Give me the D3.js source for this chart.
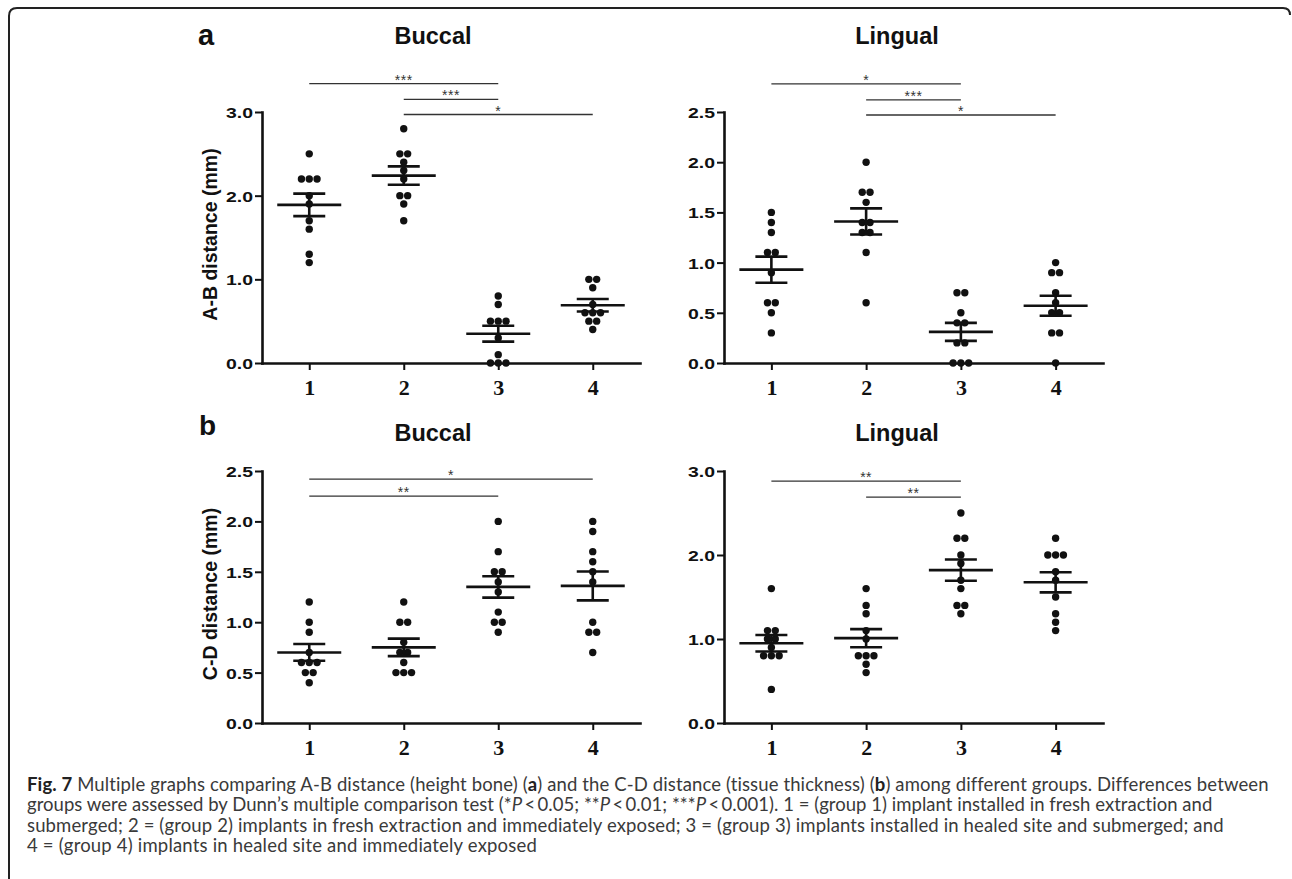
<!DOCTYPE html>
<html>
<head>
<meta charset="utf-8">
<script src="https://cdn.jsdelivr.net/npm/d3@7"></script>
<style>
  html, body { margin: 0; padding: 0; background: #fff; }
  svg { display: block; }
</style>
</head>
<body>
<svg id="chart" width="1292" height="879"></svg>
<script>
// ---------- DATA ----------
const categories = ["1", "2", "3", "4"];

// Panel a: A-B distance, Buccal
const abBuccalPoints = [
  [2.5, 2.2, 2.2, 2.2, 2.0, 1.9, 1.7, 1.6, 1.3, 1.2],
  [2.8, 2.5, 2.5, 2.4, 2.3, 2.2, 2.0, 2.0, 1.9, 1.7],
  [0.8, 0.7, 0.5, 0.5, 0.5, 0.3, 0.1, 0.0, 0.0, 0.0],
  [1.0, 1.0, 0.9, 0.7, 0.6, 0.6, 0.6, 0.5, 0.5, 0.4]
];
const abBuccalMean = [1.89, 2.24, 0.35, 0.69];
const abBuccalSem = [0.135, 0.11, 0.095, 0.075];
const abBuccalTicks = [0, 1, 2, 3];
const abBuccalSig = [
  { from: 0, to: 2, y: 3.34, label: "***" },
  { from: 1, to: 2, y: 3.15, label: "***" },
  { from: 1, to: 3, y: 2.97, label: "*" }
];

// Panel a: A-B distance, Lingual
const abLingualPoints = [
  [1.5, 1.4, 1.3, 1.1, 1.1, 0.9, 0.6, 0.6, 0.5, 0.3],
  [2.0, 1.7, 1.7, 1.6, 1.4, 1.4, 1.3, 1.3, 1.1, 0.6],
  [0.7, 0.7, 0.5, 0.4, 0.4, 0.2, 0.2, 0.0, 0.0, 0.0],
  [1.0, 0.9, 0.9, 0.7, 0.6, 0.5, 0.5, 0.3, 0.3, 0.0]
];
const abLingualMean = [0.93, 1.41, 0.31, 0.57];
const abLingualSem = [0.13, 0.13, 0.09, 0.10];
const abLingualTicks = [0, 0.5, 1.0, 1.5, 2.0, 2.5];
const abLingualSig = [
  { from: 0, to: 2, y: 2.78, label: "*" },
  { from: 1, to: 2, y: 2.62, label: "***" },
  { from: 1, to: 3, y: 2.47, label: "*" }
];

// Panel b: C-D distance, Buccal
const cdBuccalPoints = [
  [1.2, 1.0, 0.9, 0.7, 0.6, 0.6, 0.6, 0.5, 0.5, 0.4],
  [1.2, 1.0, 1.0, 0.8, 0.7, 0.7, 0.6, 0.5, 0.5, 0.5],
  [2.0, 1.7, 1.5, 1.5, 1.4, 1.3, 1.1, 1.0, 1.0, 0.9],
  [2.0, 1.9, 1.7, 1.6, 1.5, 1.4, 1.0, 0.9, 0.9, 0.7]
];
const cdBuccalMean = [0.70, 0.75, 1.35, 1.36];
const cdBuccalSem = [0.083, 0.087, 0.106, 0.143];
const cdBuccalTicks = [0, 0.5, 1.0, 1.5, 2.0, 2.5];
const cdBuccalSig = [
  { from: 0, to: 3, y: 2.42, label: "*" },
  { from: 0, to: 2, y: 2.25, label: "**" }
];

// Panel b: C-D distance, Lingual
const cdLingualPoints = [
  [1.6, 1.1, 1.1, 1.0, 1.0, 0.9, 0.8, 0.8, 0.8, 0.4],
  [1.6, 1.4, 1.3, 1.1, 1.0, 0.8, 0.8, 0.8, 0.7, 0.6],
  [2.5, 2.2, 2.2, 2.0, 1.9, 1.7, 1.6, 1.4, 1.4, 1.3],
  [2.2, 2.0, 2.0, 2.0, 1.8, 1.7, 1.5, 1.3, 1.2, 1.1]
];
const cdLingualMean = [0.95, 1.01, 1.82, 1.675];
const cdLingualSem = [0.098, 0.108, 0.127, 0.12];
const cdLingualTicks = [0, 1, 2, 3];
const cdLingualSig = [
  { from: 0, to: 2, y: 2.88, label: "**" },
  { from: 1, to: 2, y: 2.69, label: "**" }
];

const panelTitles = ["Buccal", "Lingual"];
const yTitles = ["A-B distance (mm)", "C-D distance (mm)"];
const panelLetters = ["a", "b"];

const captionLines = [
  [["b", "Fig. 7"], ["n", " Multiple graphs comparing A-B distance (height bone) ("], ["b", "a"], ["n", ") and the C-D distance (tissue thickness) ("], ["b", "b"], ["n", ") among different groups. Differences between"]],
  [["n", "groups were assessed by Dunn\u2019s multiple comparison test (*"], ["i", "P"], ["n", "\u2009<\u20090.05; **"], ["i", "P"], ["n", "\u2009<\u20090.01; ***"], ["i", "P"], ["n", "\u2009<\u20090.001). 1 = (group 1) implant installed in fresh extraction and"]],
  [["n", "submerged; 2 = (group 2) implants in fresh extraction and immediately exposed; 3 = (group 3) implants installed in healed site and submerged; and"]],
  [["n", "4 = (group 4) implants in healed site and immediately exposed"]]
];

// ---------- DRAW ----------
const svg = d3.select("#chart");
svg.append("rect").attr("width", 1292).attr("height", 879).attr("fill", "#fff");

// frame
svg.append("path")
  .attr("d", "M9,879 L9,16 Q9,8 17,8 L1283,8 Q1290,8 1290,15")
  .attr("fill", "none").attr("stroke", "#222").attr("stroke-width", 2);

const sansBold = "Liberation Sans, Arial, sans-serif";

const panels = [
  { pts: abBuccalPoints, mean: abBuccalMean, sem: abBuccalSem, ticks: abBuccalTicks, sig: abBuccalSig, ymax: 3,
    left: 262, right: 640, top: 112, bottom: 363, title: panelTitles[0], titleX: 433, titleY: 44, yTitle: yTitles[0], yTitleX: 217 },
  { pts: abLingualPoints, mean: abLingualMean, sem: abLingualSem, ticks: abLingualTicks, sig: abLingualSig, ymax: 2.5,
    left: 724, right: 1103, top: 112, bottom: 363, title: panelTitles[1], titleX: 897, titleY: 44, yTitle: null },
  { pts: cdBuccalPoints, mean: cdBuccalMean, sem: cdBuccalSem, ticks: cdBuccalTicks, sig: cdBuccalSig, ymax: 2.5,
    left: 262, right: 640, top: 471, bottom: 723, title: panelTitles[0], titleX: 433, titleY: 441, yTitle: yTitles[1], yTitleX: 217 },
  { pts: cdLingualPoints, mean: cdLingualMean, sem: cdLingualSem, ticks: cdLingualTicks, sig: cdLingualSig, ymax: 3,
    left: 724, right: 1103, top: 471, bottom: 723, title: panelTitles[1], titleX: 897, titleY: 441, yTitle: null }
];

panels.forEach(p => {
  const g = svg.append("g");
  const x = d3.scalePoint().domain(categories).range([p.left, p.right]).padding(0.5);
  const y = d3.scaleLinear().domain([0, p.ymax]).range([p.bottom, p.top]);

  // y axis
  const ya = g.append("g").attr("transform", `translate(${p.left},0)`)
    .call(d3.axisLeft(y).tickValues(p.ticks).tickFormat(d3.format(".1f")).tickSize(7).tickSizeOuter(0).tickPadding(2));
  ya.select(".domain").attr("stroke", "#111").attr("stroke-width", 2.6).attr("stroke-linecap", "square");
  ya.selectAll(".tick line").attr("stroke", "#111").attr("stroke-width", 2);
  ya.selectAll(".tick text").attr("fill", "#111").attr("font-family", sansBold).attr("font-weight", "bold")
    .attr("font-size", 15).attr("dy", "0.36em")
    .attr("textLength", 27).attr("lengthAdjust", "spacingAndGlyphs");

  // x axis
  const xa = g.append("g").attr("transform", `translate(0,${p.bottom})`)
    .call(d3.axisBottom(x).tickSize(7).tickSizeOuter(0));
  xa.select(".domain").attr("stroke", "#111").attr("stroke-width", 2.6).attr("stroke-linecap", "square");
  xa.selectAll(".tick line").attr("stroke", "#111").attr("stroke-width", 2);
  xa.selectAll(".tick text").attr("fill", "#111").attr("font-family", "Liberation Serif, Times New Roman, serif")
    .attr("font-weight", "bold").attr("font-size", 22).attr("y", 32).attr("dy", 0);

  // title
  g.append("text").attr("x", p.titleX).attr("y", p.titleY).attr("text-anchor", "middle")
    .attr("font-family", sansBold).attr("font-weight", "bold").attr("font-size", 23.5).attr("fill", "#111")
    .text(p.title);

  if (p.yTitle) {
    const cy = (p.top + p.bottom) / 2 - 3;
    g.append("text").attr("transform", `translate(${p.yTitleX},${cy}) rotate(-90)`)
      .attr("text-anchor", "middle").attr("font-family", sansBold).attr("font-weight", "bold")
      .attr("font-size", 19.5).attr("fill", "#111").text(p.yTitle);
  }

  // points (column scatter)
  p.pts.forEach((vals, gi) => {
    const cx = x(categories[gi]);
    const byVal = d3.group(vals, v => v.toFixed(2));
    byVal.forEach((arr) => {
      const n = arr.length;
      arr.forEach((v, k) => {
        g.append("circle").attr("cx", cx + (k - (n - 1) / 2) * 7.8).attr("cy", y(v))
          .attr("r", 3.7).attr("fill", "#111");
      });
    });
    // mean and SEM
    const m = p.mean[gi], s = p.sem[gi];
    g.append("line").attr("x1", cx - 32).attr("x2", cx + 32).attr("y1", y(m)).attr("y2", y(m))
      .attr("stroke", "#111").attr("stroke-width", 2.6);
    g.append("line").attr("x1", cx).attr("x2", cx).attr("y1", y(m + s)).attr("y2", y(m - s))
      .attr("stroke", "#111").attr("stroke-width", 2.6);
    [m + s, m - s].forEach(b => {
      g.append("line").attr("x1", cx - 16).attr("x2", cx + 16).attr("y1", y(b)).attr("y2", y(b))
        .attr("stroke", "#111").attr("stroke-width", 2.6);
    });
  });

  // significance bars
  p.sig.forEach(sg => {
    const x1 = x(categories[sg.from]), x2 = x(categories[sg.to]);
    g.append("line").attr("x1", x1).attr("x2", x2).attr("y1", y(sg.y)).attr("y2", y(sg.y))
      .attr("stroke", "#333").attr("stroke-width", 1.3);
    g.append("text").attr("x", (x1 + x2) / 2).attr("y", y(sg.y) + 1).attr("text-anchor", "middle")
      .attr("font-family", sansBold).attr("font-size", 14).attr("fill", "#333")
      .attr("letter-spacing", 0.5).text(sg.label);
  });
});

// panel letters
svg.append("text").attr("x", 198).attr("y", 45).attr("font-family", sansBold).attr("font-weight", "bold")
  .attr("font-size", 29).attr("fill", "#111").text(panelLetters[0]);
svg.append("text").attr("x", 199).attr("y", 435).attr("font-family", sansBold).attr("font-weight", "bold")
  .attr("font-size", 28).attr("fill", "#111").text(panelLetters[1]);

// caption
const capX = 27;
const capEnds = [1268, 1213, 1224, 537];
const capBase = [790.5, 811, 831.5, 852];
captionLines.forEach((line, i) => {
  const t = svg.append("text").attr("x", capX).attr("y", capBase[i])
    .attr("font-family", "Lato, 'Open Sans', sans-serif").attr("font-size", 18.5).attr("fill", "#3a3a3a");
  line.forEach(([style, str]) => {
    const ts = t.append("tspan").text(str);
    if (style === "b") ts.attr("font-weight", "bold").attr("fill", "#222");
    if (style === "i") ts.attr("font-style", "italic");
  });
  const len = t.node().getComputedTextLength();
  const nch = line.map(d => d[1]).join("").length;
  const ls = (capEnds[i] - capX - len) / nch;
  t.attr("letter-spacing", ls);
});
</script>
</body>
</html>
